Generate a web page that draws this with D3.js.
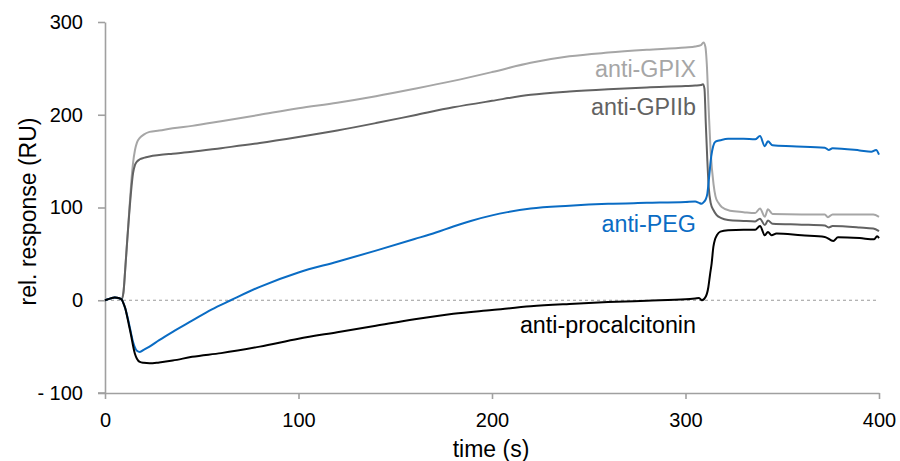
<!DOCTYPE html>
<html>
<head>
<meta charset="utf-8">
<script src="https://cdn.jsdelivr.net/npm/d3@7"></script>
<style>
  html, body { margin: 0; padding: 0; background: #fff; }
  svg { display: block; font-family: "Liberation Sans", Arial, sans-serif; }
</style>
</head>
<body>
<svg id="chart" width="900" height="461"></svg>
<script>
// Sensorgram traces: [time (s), relative response (RU)]
const antiGPIX = [
  [0,0],[3,2],[5,3],[7,2.5],[8.5,1],[9.5,8],[10.5,35],[11.5,65],[12.5,95],[13.5,125],
  [14.5,148],[15.5,162],[16.5,170],[18,175],[20,178.5],[23,181.5],[28,183],[35,185.5],
  [45,188],[60,193],[80,200],[100,207],[120,213],[140,220],[160,228],[180,236.5],
  [200,246],[220,256],[240,263],[260,267],[280,270],[300,272.5],[305,273.5],[308,275],
  [309.3,278],[310.3,273],[311,255],[312,205],[313,160],[314.5,125],[315.5,112],[317,105],
  [318.7,100.5],[323,96.5],[330,95],[336,94],[338.5,99],[341,90],[342.6,98],[345,93],
  [360,92.5],[372,92.5],[373.6,89.5],[376,92.5],[390,92.5],[397,92.5],[400,90]
];
const antiGPIIb = [
  [0,0],[3,2],[5,3],[7,2.5],[8.5,1],[9.5,8],[10.5,35],[11.5,65],[12.5,93],[13.5,118],
  [14.5,137],[15.5,146],[16.5,149.5],[18,152],[20,153.5],[23,155],[28,156.5],[35,158],
  [45,160],[60,164],[80,169.5],[100,176],[120,183],[140,191],[160,199.5],[180,208],
  [200,215],[220,221.5],[240,225],[260,227.5],[280,229.5],[300,231],[305,231.5],[308,232],
  [309,233],[309.8,228],[310.5,190],[311.3,150],[312,122],[313,105],[314.5,97],[316,92],
  [318.5,88.5],[322,86.5],[330,85.5],[336,85],[338.5,88],[341,81],[342.6,86],[345,82.5],
  [360,81.5],[372,80.5],[374,78.5],[376,80],[390,78.5],[397,77.3],[400,74.5]
];
const antiPEG = [
  [0,0],[3,2],[5,3],[7,2.5],[8.5,1],[9.5,-3],[10.5,-9],[11.5,-17],[12.5,-26],[13.5,-36],
  [14.5,-45],[15.5,-51],[16.5,-54.5],[18,-55.7],[20,-53.5],[23,-50],[28,-43],[35,-34],
  [45,-22],[55,-10],[65,0],[80,14.5],[100,30],[120,41.5],[140,53.5],[160,66],[171,73],
  [180,79.5],[189,85.5],[200,91.5],[208,95],[220,99],[240,102],[260,104],[280,105],[300,106],
  [305,106.5],[307,105],[308.3,104],[309.5,106],[310.5,109],[311.3,115],[312.3,135],
  [313.3,155],[314.3,166],[315.5,171],[318,172.5],[322,174],[330,174],[336,173.5],
  [338.5,177],[341,166],[342.6,171.5],[345,167],[355,166],[372,164.5],[374,162],[376,164],
  [390,161.5],[396,160],[398.5,162],[400,157]
];
const antiProcalcitonin = [
  [0,0],[3,2],[5,3],[7,2.5],[8.5,1],[9.5,-3],[10.5,-9],[11.5,-18],[12.5,-28],[13.5,-38],
  [14.5,-49],[15.5,-58],[16.5,-63],[18,-66.5],[20,-67.5],[23,-68],[28,-67],[35,-65],
  [45,-61],[60,-57],[80,-50],[100,-41.5],[120,-34.5],[140,-27.5],[160,-20.5],[180,-14.5],
  [200,-10.5],[220,-6.5],[240,-4],[260,-2],[280,-0.5],[300,1],[305,2],[307,2.5],[308.5,0],
  [310.5,4],[311.8,14],[312.7,28],[313.5,39.5],[314.4,57.5],[315.3,66],[316.2,70],[318,74],
  [322,75.5],[330,76],[336,76],[338.5,80],[341,70],[342.6,73.7],[344.5,70],[347,72],
  [360,70],[372,68.3],[376.4,64],[378.8,68],[390,67],[397.5,65.7],[399,69],[400,67]
];

const seriesNames = ["anti-GPIX", "anti-GPIIb", "anti-PEG", "anti-procalcitonin"];
const seriesColors = ["#a6a6a6", "#626262", "#0a6cc4", "#000000"];
const xTicks = [0, 100, 200, 300, 400];
const yTicks = [-100, 0, 100, 200, 300];
const xTitle = "time (s)";
const yTitle = "rel. response (RU)";

const svg = d3.select("#chart");
const plotLeft = 105, plotRight = 879, plotTop = 22, plotBottom = 393;

const x = d3.scaleLinear().domain([0, 400]).range([plotLeft, plotRight]);
const y = d3.scaleLinear().domain([-100, 300]).range([plotBottom, plotTop]);

// dotted baseline at zero response
svg.append("line")
  .attr("x1", x(0)).attr("x2", x(400))
  .attr("y1", y(0)).attr("y2", y(0))
  .attr("stroke", "#9a9a9a").attr("stroke-width", 1)
  .attr("stroke-dasharray", "3,3");

const axisColor = "#a0a0a0";

const yAxis = svg.append("g")
  .attr("transform", `translate(${plotLeft},0)`)
  .call(d3.axisLeft(y).tickValues(yTicks).tickSize(7).tickSizeOuter(0).tickPadding(15)
    .tickFormat(d => d < 0 ? "- " + Math.abs(d) : String(d)));

const xAxis = svg.append("g")
  .attr("transform", `translate(0,${plotBottom})`)
  .call(d3.axisBottom(x).tickValues(xTicks).tickSize(6).tickSizeOuter(0).tickPadding(14)
    .tickFormat(d => String(d)));

[yAxis, xAxis].forEach(g => {
  g.select(".domain").attr("stroke", axisColor).attr("stroke-width", 1.6);
  g.selectAll(".tick line").attr("stroke", axisColor).attr("stroke-width", 1.6);
  g.selectAll(".tick text").attr("fill", "#000").style("font-size", "20px")
    .style("font-family", '"Liberation Sans", Arial, sans-serif');
});
// horizontal axis line continues to the -100 tick on the left
svg.append("line")
  .attr("x1", plotLeft - 7).attr("x2", plotLeft)
  .attr("y1", plotBottom).attr("y2", plotBottom)
  .attr("stroke", axisColor).attr("stroke-width", 1.6);

const line = d3.line()
  .x(d => x(d[0]))
  .y(d => y(d[1]))
  .curve(d3.curveMonotoneX);

const traces = [antiGPIX, antiGPIIb, antiPEG, antiProcalcitonin];
traces.forEach((data, i) => {
  svg.append("path")
    .datum(data)
    .attr("fill", "none")
    .attr("stroke", seriesColors[i])
    .attr("stroke-width", 2)
    .attr("stroke-linejoin", "round")
    .attr("d", line);
});

// trace labels, right-aligned just before the dissociation step
const labelX = 696;
const labelBaselines = [77, 115, 232, 333];
seriesNames.forEach((name, i) => {
  svg.append("text")
    .attr("x", labelX)
    .attr("y", labelBaselines[i])
    .attr("text-anchor", "end")
    .attr("fill", seriesColors[i])
    .style("font-size", "23.3px")
    .text(name);
});

svg.append("text")
  .attr("x", (plotLeft + plotRight) / 2 - 1)
  .attr("y", 457)
  .attr("text-anchor", "middle")
  .style("font-size", "23px")
  .text(xTitle);

svg.append("text")
  .attr("transform", `translate(36,${(plotTop + plotBottom) / 2 + 4}) rotate(-90)`)
  .attr("text-anchor", "middle")
  .style("font-size", "23px")
  .text(yTitle);
</script>
</body>
</html>
